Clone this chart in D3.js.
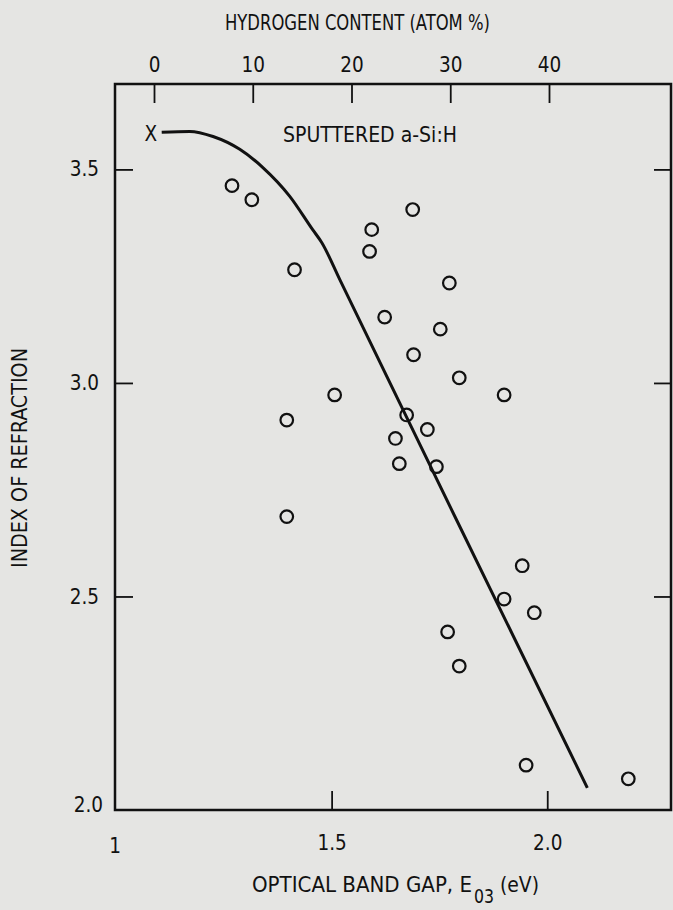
<!DOCTYPE html>
<html>
<head>
<meta charset="utf-8">
<script src="https://cdn.jsdelivr.net/npm/d3@7"></script>
<style>
  body { margin: 0; background: #e5e5e3; }
  svg text { font-family: "Liberation Sans Narrow", "DejaVu Sans Condensed", sans-serif; fill: #111; }
</style>
</head>
<body>
<div id="chart"></div>
<script>
// measured points: optical band gap (eV) vs index of refraction
const bandGap = [1.269, 1.315, 1.414, 1.593, 1.588, 1.688, 1.773, 1.623, 1.752, 1.690,
                 1.796, 1.900, 1.507, 1.396, 1.674, 1.722, 1.648, 1.657, 1.743, 1.396,
                 1.942, 1.900, 1.970, 1.769, 1.796, 1.951, 2.188];
const refIndex = [3.462, 3.429, 3.265, 3.359, 3.308, 3.406, 3.234, 3.154, 3.126, 3.066,
                  3.012, 2.972, 2.972, 2.913, 2.925, 2.891, 2.870, 2.811, 2.804, 2.687,
                  2.572, 2.494, 2.462, 2.417, 2.337, 2.105, 2.073];

// hand-drawn trend curve (curved top, then straight)
const curveGap = [1.106, 1.171, 1.225, 1.287, 1.340, 1.403, 1.456, 1.477, 1.519, 1.785, 2.093];
const curveIndex = [3.587, 3.589, 3.577, 3.547, 3.505, 3.437, 3.359, 3.329, 3.242, 2.689, 2.052];

// crystalline reference point marked X
const xMarkGap = 1.083;
const xMarkIndex = 3.584;

const gapTicks = [1.5, 2.0];
const gapTickLabels = ["1.5", "2.0"];
const indexTicks = [2.5, 3.0, 3.5];
const indexTickLabels = ["2.5", "3.0", "3.5"];
const hydrogenTicks = [0, 10, 20, 30, 40];

const svgWidth = 673;
const svgHeight = 910;

const svg = d3.select("#chart")
    .append("svg")
    .attr("width", svgWidth)
    .attr("height", svgHeight);

// plot frame edges
const frame = { left: 115, right: 671, top: 84, bottom: 810 };

const xScale = d3.scaleLinear().domain([1, 2.287]).range([frame.left + 1, frame.right]);
const yScale = d3.scaleLinear().domain([2, 3.7]).range([frame.bottom, frame.top]);
// hydrogen content scale on the top edge
const hScale = d3.scaleLinear().domain([0, 40]).range([154, 549]);

const ink = "#111";
const fontSize = 20.5;

// frame
svg.append("rect")
    .attr("x", frame.left).attr("y", frame.top)
    .attr("width", frame.right - frame.left).attr("height", frame.bottom - frame.top)
    .attr("fill", "none").attr("stroke", ink).attr("stroke-width", 2.5);

// bottom axis (ticks point inward)
const xAxis = d3.axisBottom(xScale).tickValues(gapTicks).tickSize(-19).tickFormat((d, i) => gapTickLabels[i]).tickPadding(25);
const gx = svg.append("g").attr("transform", `translate(0,${frame.bottom})`).call(xAxis);

// left axis
const yAxis = d3.axisLeft(yScale).tickValues(indexTicks).tickSize(-18).tickFormat((d, i) => indexTickLabels[i]).tickPadding(16);
const gy = svg.append("g").attr("transform", `translate(${frame.left},0)`).call(yAxis);

// right axis, ticks only
const yAxisR = d3.axisRight(yScale).tickValues(indexTicks).tickSize(-17).tickFormat("");
const gyr = svg.append("g").attr("transform", `translate(${frame.right},0)`).call(yAxisR);

// top axis for hydrogen content
const hAxis = d3.axisTop(hScale).tickValues(hydrogenTicks).tickSize(-19).tickPadding(12);
const gh = svg.append("g").attr("transform", `translate(0,${frame.top})`).call(hAxis);

[gx, gy, gyr, gh].forEach(g => {
    g.select(".domain").remove();
    g.selectAll(".tick line").attr("stroke", ink).attr("stroke-width", 1.8);
    g.selectAll(".tick text").attr("font-size", fontSize).attr("fill", ink)
        .style("font-family", "Liberation Sans Narrow, DejaVu Sans Condensed, sans-serif");
});

// corner labels "1" and "2.0"
svg.append("text").attr("x", 115).attr("y", 853)
    .attr("text-anchor", "middle").attr("font-size", fontSize).text("1");
svg.append("text").attr("x", 103).attr("y", 812)
    .attr("text-anchor", "end").attr("font-size", fontSize).text("2.0");

// trend curve
const line = d3.line()
    .x((d, i) => xScale(curveGap[i]))
    .y((d, i) => yScale(curveIndex[i]))
    .curve(d3.curveMonotoneX);

svg.append("path")
    .datum(curveGap)
    .attr("d", line)
    .attr("fill", "none")
    .attr("stroke", ink)
    .attr("stroke-width", 3);

// X marker
svg.append("text")
    .attr("x", xScale(xMarkGap) - 1).attr("y", yScale(xMarkIndex))
    .attr("dy", "0.35em").attr("text-anchor", "middle")
    .attr("font-size", fontSize).text("X");

// data circles
svg.selectAll(".pt")
    .data(bandGap)
    .enter().append("circle")
    .attr("class", "pt")
    .attr("cx", d => xScale(d))
    .attr("cy", (d, i) => yScale(refIndex[i]))
    .attr("r", 6.3)
    .attr("fill", "none")
    .attr("stroke", ink)
    .attr("stroke-width", 2.2);

// texts
svg.append("text").attr("x", 283).attr("y", 142)
    .attr("font-size", fontSize)
    .attr("textLength", 174).attr("lengthAdjust", "spacingAndGlyphs")
    .text("SPUTTERED a-Si:H");

svg.append("text").attr("x", 225).attr("y", 30)
    .attr("font-size", fontSize)
    .attr("textLength", 265).attr("lengthAdjust", "spacingAndGlyphs")
    .text("HYDROGEN CONTENT (ATOM %)");

svg.append("text").attr("x", 252).attr("y", 892)
    .attr("font-size", fontSize)
    .attr("textLength", 220).attr("lengthAdjust", "spacingAndGlyphs")
    .text("OPTICAL BAND GAP, E");
svg.append("text").attr("x", 474).attr("y", 903)
    .attr("font-size", 19)
    .attr("textLength", 20).attr("lengthAdjust", "spacingAndGlyphs")
    .text("03");
svg.append("text").attr("x", 500).attr("y", 892)
    .attr("font-size", fontSize)
    .attr("textLength", 39).attr("lengthAdjust", "spacingAndGlyphs")
    .text("(eV)");

svg.append("text")
    .attr("transform", `translate(27,568) rotate(-90)`)
    .attr("font-size", fontSize)
    .attr("textLength", 220).attr("lengthAdjust", "spacingAndGlyphs")
    .text("INDEX OF REFRACTION");
</script>
</body>
</html>
